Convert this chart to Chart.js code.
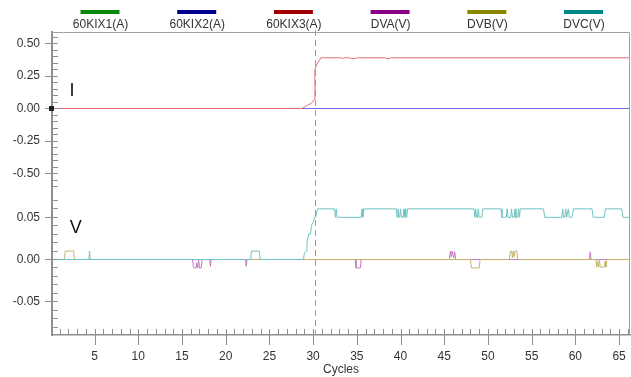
<!DOCTYPE html>
<html>
<head>
<meta charset="utf-8">
<script src="https://cdn.jsdelivr.net/npm/chart.js@4.4.1/dist/chart.umd.min.js"></script>
<style>
    html, body { margin: 0; padding: 0; background: #ffffff; }
    canvas { display: block; }
</style>
</head>
<body>
<canvas id="traceChart" width="631" height="377"></canvas>
<script>
//CURRENT (I) AND VOLTAGE (V) TRACES PER CYCLE
//==============================================

//channels, legend swatch colours and trace colours
var channelNames = ["60KIX1(A)", "60KIX2(A)", "60KIX3(A)", "DVA(V)", "DVB(V)", "DVC(V)"];
var legendColors = ["#0a880a", "#00008c", "#a00000", "#880088", "#888800", "#008888"];
var traceColors = ["#6ab46a", "#6c6cdc", "#e07070", "#c478c4", "#c4b470", "#70c2c2"];
var channelAxes = ["yI", "yI", "yI", "yV", "yV", "yV"];

//current channels (A)
var kix1Cycles = [0.13, 66.25];
var kix1Values = [0, 0];
var kix2Cycles = [0.13, 66.25];
var kix2Values = [0, 0];
var kix3Cycles = [0.13, 28.74, 29.2, 29.35, 29.8, 30.15, 30.2, 30.3, 30.5, 30.9, 33.25, 33.4, 33.6, 34.2, 34.35, 34.85, 35.0, 38.25, 38.4, 38.75, 38.9, 66.25];
var kix3Values = [0, 0, 0.02, 0.025, 0.04, 0.07, 0.30, 0.32, 0.35, 0.39, 0.39, 0.385, 0.39, 0.39, 0.385, 0.385, 0.39, 0.39, 0.385, 0.385, 0.39, 0.39];

//voltage channels (V)
var dvaCycles = [0.13, 16.2, 16.3, 16.4, 16.6, 16.7, 16.8, 16.9, 17.0, 17.2, 17.3, 18.15, 18.25, 18.35, 22.25, 22.35, 22.45, 34.8, 34.9, 35.4, 35.5, 45.6, 45.7, 45.8, 45.9, 46.0, 46.1, 46.2, 46.3, 61.6, 61.7, 61.8, 66.25];
var dvaValues = [0, 0, -0.008, -0.01, -0.01, -0.004, -0.01, 0, -0.01, -0.01, 0, 0, -0.008, 0, 0, -0.008, 0, 0, -0.01, -0.01, 0, 0, 0.01, 0.003, 0.01, 0.01, 0.002, 0.009, 0, 0, 0.009, 0, 0];
var dvbCycles = [0.13, 1.55, 1.65, 2.6, 2.7, 48.0, 48.1, 49.0, 49.1, 52.45, 52.55, 52.7, 52.8, 52.9, 53.0, 53.1, 53.3, 53.4, 62.35, 62.45, 62.55, 62.65, 62.75, 62.85, 63.3, 63.4, 63.5, 63.6, 66.25];
var dvbValues = [0, 0, 0.01, 0.01, 0, 0, -0.01, -0.01, 0, 0, 0.01, 0.01, 0.002, 0.01, 0.003, 0.01, 0.01, 0, 0, -0.009, -0.002, -0.009, 0, -0.009, -0.009, -0.002, -0.009, 0, 0];
var dvcCycles = [0.13, 4.35, 4.43, 4.5,
    22.85, 22.95, 23.85, 23.95,
    28.9, 29.0, 29.2, 29.3, 29.5, 29.7, 29.8, 30.05, 30.15, 30.3, 30.5,
    32.45, 32.55, 32.65, 32.75, 35.5, 35.6, 35.7, 35.8,
    39.5, 39.6, 39.7, 39.8, 39.9, 40.0, 40.1, 40.3, 40.4, 40.5, 40.6, 40.7, 40.8,
    48.4, 48.5, 48.6, 48.7, 48.8, 48.9, 49.0, 49.3, 49.4, 49.5,
    51.5, 51.6, 52.1, 52.2, 52.3, 52.6, 52.7, 52.8, 53.0, 53.1, 53.2, 53.4, 53.5, 53.6, 53.7,
    56.35, 56.5, 58.45, 58.55, 58.65, 58.8, 58.9, 59.0, 59.2, 59.3, 59.6, 59.8,
    61.9, 62.05, 63.3, 63.45, 65.3, 65.45, 66.25];
var dvcValues = [0, 0, 0.01, 0,
    0, 0.01, 0.01, 0,
    0, 0.008, 0.01, 0.02, 0.03, 0.03, 0.04, 0.045, 0.05, 0.05, 0.06,
    0.06, 0.05, 0.06, 0.05, 0.05, 0.06, 0.05, 0.06,
    0.06, 0.05, 0.06, 0.05, 0.05, 0.06, 0.05, 0.05, 0.06, 0.05, 0.06, 0.05, 0.06,
    0.06, 0.05, 0.06, 0.05, 0.05, 0.06, 0.05, 0.05, 0.06, 0.06,
    0.06, 0.05, 0.05, 0.06, 0.05, 0.05, 0.06, 0.05, 0.05, 0.06, 0.05, 0.05, 0.06, 0.05, 0.06,
    0.06, 0.05, 0.05, 0.06, 0.05, 0.05, 0.06, 0.05, 0.06, 0.05, 0.05, 0.06,
    0.06, 0.05, 0.05, 0.06, 0.06, 0.05, 0.05];

var channelCycles = [kix1Cycles, kix2Cycles, kix3Cycles, dvaCycles, dvbCycles, dvcCycles];
var channelValues = [kix1Values, kix2Values, kix3Values, dvaValues, dvbValues, dvcValues];

//cycle axis range and the cursor position
var cycleMin = 0.13;
var cycleMax = 66.25;
var cursorCycle = 30.26;

//panel ranges: current on top, voltage below
var currentMin = -0.6423, currentMax = 0.5885;
var voltageMin = -0.08946, voltageMax = 0.07998;

var axisGray = "#8f8f8f";
var textColor = "#333333";

Chart.defaults.font.family = "'Liberation Sans', Arial, sans-serif";
Chart.defaults.font.size = 12;

//pairs cycle/value arrays into points
function toPoints(cycles, values) {
    return cycles.map(function (c, i) {
        return {x: c, y: values[i]};
    });
}

//tick length (not drawn) keeps the labels away from the axis;
//ticks.padding would also shrink the chart area
function spacerGrid(len) {
    return {display: false, drawTicks: true, tickLength: len};
}

//draws inner/outer tick marks, frame, cursor and panel names
var panelMarks = {
    id: 'panelMarks',
    afterDatasetsDraw: function (chart) {
        var ctx = chart.ctx;
        var area = chart.chartArea;
        var xs = chart.scales.x, yI = chart.scales.yI, yV = chart.scales.yV;
        var i, px, py, v;
        ctx.save();

        //frame top and right
        ctx.strokeStyle = "#a0a0a0";
        ctx.lineWidth = 1;
        ctx.beginPath();
        ctx.moveTo(area.left, area.top + 0.5);
        ctx.lineTo(area.right - 0.5, area.top + 0.5);
        ctx.lineTo(area.right - 0.5, area.bottom);
        ctx.stroke();

        //cursor line
        px = Math.round(xs.getPixelForValue(cursorCycle)) + 0.5;
        ctx.strokeStyle = "#e07c8c";
        ctx.lineWidth = 1;
        ctx.setLineDash([6, 4]);
        ctx.beginPath();
        ctx.moveTo(px, area.top - 2);
        ctx.lineTo(px, area.bottom);
        ctx.stroke();
        ctx.setLineDash([]);

        ctx.strokeStyle = axisGray;
        ctx.lineWidth = 1;
        //cycle ticks
        for (i = 1; i <= Math.floor(cycleMax); i++) {
            px = Math.round(xs.getPixelForValue(i)) + 0.5;
            ctx.beginPath();
            if (i % 5 === 0) {
                ctx.moveTo(px, area.bottom - 6);
                ctx.lineTo(px, area.bottom + 10);
            } else {
                ctx.moveTo(px, area.bottom - 6);
                ctx.lineTo(px, area.bottom);
            }
            ctx.stroke();
        }
        //current ticks every 0.05
        for (i = -12; i <= 11; i++) {
            v = i * 0.05;
            py = Math.round(yI.getPixelForValue(v) - 0.5) + 0.5;
            ctx.beginPath();
            ctx.moveTo(i % 5 === 0 ? area.left - 7 : area.left, py);
            ctx.lineTo(area.left + 6, py);
            ctx.stroke();
        }
        //voltage ticks every 0.01
        for (i = -8; i <= 7; i++) {
            v = i * 0.01;
            py = Math.round(yV.getPixelForValue(v) - 0.5) + 0.5;
            ctx.beginPath();
            ctx.moveTo(i % 5 === 0 ? area.left - 7 : area.left, py);
            ctx.lineTo(area.left + 6, py);
            ctx.stroke();
        }

        //zero marker on the current axis
        ctx.fillStyle = "#222222";
        py = Math.round(yI.getPixelForValue(0) - 0.5);
        ctx.fillRect(area.left - 3, py - 2, 5, 5);

        //panel names
        ctx.fillStyle = "#111111";
        ctx.font = "18px 'Liberation Sans', Arial, sans-serif";
        ctx.textAlign = "center";
        ctx.textBaseline = "middle";
        ctx.fillText("I", xs.getPixelForValue(2.41), yI.getPixelForValue(0.135));
        ctx.fillText("V", xs.getPixelForValue(2.85), yV.getPixelForValue(0.037));
        ctx.restore();
    }
};

//legend: swatch bar above each channel name
var barLegend = {
    id: 'barLegend',
    afterDraw: function (chart) {
        var ctx = chart.ctx;
        ctx.save();
        ctx.font = "12px 'Liberation Sans', Arial, sans-serif";
        ctx.textAlign = "center";
        ctx.textBaseline = "middle";
        chart.data.datasets.forEach(function (ds, i) {
            var cx = 100.5 + i * 96.7;
            ctx.fillStyle = ds.legendColor;
            ctx.fillRect(cx - 20, 10, 39, 4);
            ctx.fillStyle = textColor;
            ctx.fillText(ds.label, cx, 24.5);
        });
        ctx.restore();
    }
};

window.onload = main;

function main() {
    var ctx = document.getElementById("traceChart").getContext("2d");
    var datasets = channelNames.map(function (name, i) {
        return {
            label: name,
            data: toPoints(channelCycles[i], channelValues[i]),
            yAxisID: channelAxes[i],
            borderColor: traceColors[i],
            legendColor: legendColors[i],
            borderWidth: 1,
            pointRadius: 0,
            tension: 0,
            fill: false,
            order: channelNames.length - i
        };
    });

    new Chart(ctx, {
        type: 'line',
        data: {datasets: datasets},
        options: {
            responsive: false,
            animation: false,
            events: [],
            parsing: false,
            layout: {
                autoPadding: false,
                padding: {top: 32, right: 1, left: 0, bottom: 0}
            },
            plugins: {
                legend: {display: false},
                tooltip: {enabled: false}
            },
            scales: {
                x: {
                    type: 'linear',
                    min: cycleMin,
                    max: cycleMax,
                    border: {display: true, color: axisGray, width: 1.5},
                    grid: spacerGrid(14),
                    ticks: {
                        stepSize: 1,
                        autoSkip: false,
                        maxRotation: 0,
                        includeBounds: false,
                        padding: 0,
                        color: textColor,
                        callback: function (v) {
                            return v % 5 === 0 ? String(v) : '';
                        }
                    },
                    title: {display: true, text: 'Cycles', color: textColor, padding: 0},
                    afterFit: function (s) { s.height = 42; }
                },
                yI: {
                    type: 'linear',
                    position: 'left',
                    stack: 'panels',
                    stackWeight: 160,
                    weight: 1,
                    min: currentMin,
                    max: currentMax,
                    border: {display: true, color: axisGray, width: 2},
                    grid: spacerGrid(12),
                    ticks: {
                        stepSize: 0.25,
                        includeBounds: false,
                        padding: 0,
                        color: textColor,
                        callback: function (v) { return v.toFixed(2); }
                    },
                    afterFit: function (s) { s.width = 52; }
                },
                yV: {
                    type: 'linear',
                    position: 'left',
                    stack: 'panels',
                    stackWeight: 143,
                    weight: 0,
                    min: voltageMin,
                    max: voltageMax,
                    border: {display: true, color: axisGray, width: 2},
                    grid: spacerGrid(12),
                    ticks: {
                        stepSize: 0.05,
                        includeBounds: false,
                        padding: 0,
                        color: textColor,
                        callback: function (v) { return v.toFixed(2); }
                    },
                    afterFit: function (s) { s.width = 52; }
                }
            }
        },
        plugins: [panelMarks, barLegend]
    });
}
</script>
</body>
</html>
